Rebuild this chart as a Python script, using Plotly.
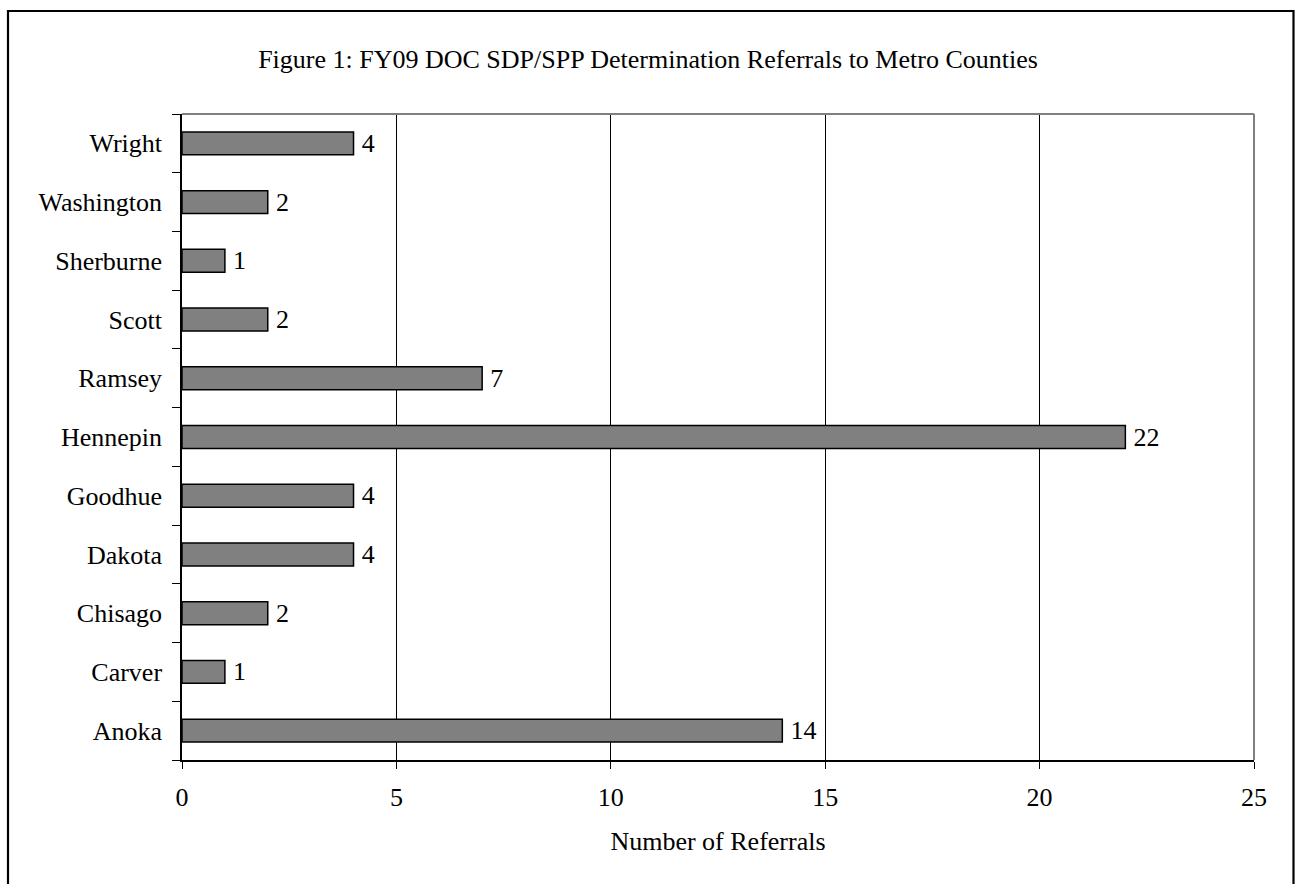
import plotly.graph_objects as go

# County referral counts (FY09)
counties = ["Anoka", "Carver", "Chisago", "Dakota", "Goodhue", "Hennepin",
            "Ramsey", "Scott", "Sherburne", "Washington", "Wright"]
referrals = [14, 1, 2, 4, 4, 22, 7, 2, 1, 2, 4]

x_ticks = [0, 5, 10, 15, 20, 25]

FONT = "Liberation Serif, Times New Roman, serif"
W, H = 1296, 884
ML, MR, MT, MB = 182, 42, 114, 124

fig = go.Figure(
    go.Bar(
        x=referrals,
        y=counties,
        orientation="h",
        width=0.39,
        marker=dict(color="#808080", line=dict(color="#000000", width=1.5)),
        texttemplate="\u2009%{x}",
        textposition="outside",
        constraintext="none",
        textfont=dict(family=FONT, size=26, color="#000000"),
        cliponaxis=False,
    )
)

fig.update_layout(
    width=W,
    height=H,
    margin=dict(l=ML, r=MR, t=MT, b=MB),
    paper_bgcolor="white",
    plot_bgcolor="white",
    showlegend=False,
    font=dict(family=FONT, size=26, color="#000000"),
    title=dict(
        text="Figure 1: FY09 DOC SDP/SPP Determination Referrals to Metro Counties",
        xref="container", x=0.5, xanchor="center",
        yref="container", y=1 - 59 / H, yanchor="middle",
        font=dict(family=FONT, size=26, color="#000000"),
    ),
    xaxis=dict(
        range=[0, 25],
        tickvals=x_ticks,
        ticktext=[str(t) for t in x_ticks],
        ticks="outside",
        ticklen=7,
        tickwidth=1,
        tickcolor="#000000",
        ticklabelstandoff=6,
        showgrid=True,
        gridcolor="#000000",
        gridwidth=1,
        showline=True,
        linecolor="#000000",
        linewidth=1.5,
        zeroline=False,
        title=dict(text="Number of Referrals", standoff=21,
                   font=dict(family=FONT, size=26, color="#000000")),
    ),
    yaxis=dict(
        type="category",
        categoryorder="array",
        categoryarray=counties,
        tickson="boundaries",
        ticks="outside",
        ticklen=8,
        tickwidth=1,
        tickcolor="#000000",
        ticklabelstandoff=13,
        showgrid=False,
        showline=True,
        linecolor="#000000",
        linewidth=1.5,
        zeroline=False,
    ),
)

# Gray frame on the top and right edges of the plot area
fig.add_shape(type="line", xref="paper", yref="paper", x0=0, x1=1, y0=1, y1=1,
              line=dict(color="#808080", width=2), layer="above")
fig.add_shape(type="line", xref="paper", yref="paper", x0=1, x1=1, y0=0, y1=1,
              line=dict(color="#808080", width=2), layer="above")

# Outer black border around the whole chart
pw, ph = W - ML - MR, H - MT - MB
fig.add_shape(type="rect", xref="paper", yref="paper",
              x0=(8 - ML) / pw, x1=(1293.5 - ML) / pw,
              y0=(H - MB - 900) / ph, y1=(H - MB - 11) / ph,
              line=dict(color="#000000", width=2.2), layer="above")

fig.write_html("out.html")
